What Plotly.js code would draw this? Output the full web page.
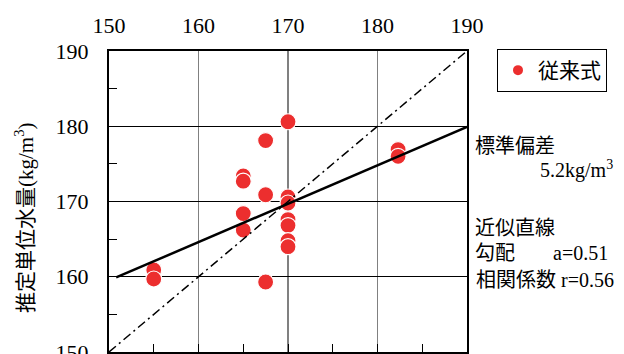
<!DOCTYPE html>
<html>
<head>
<meta charset="utf-8">
<script src="https://cdn.plot.ly/plotly-3.0.1.min.js"></script>
<style>html,body{margin:0;padding:0;background:#fff;}#chart{width:624px;height:354px;}</style>
</head>
<body>
<div id="chart"></div>
<script>
// Measured (x) vs estimated unit water content (y), kg/m3
const measured = [155, 155, 165, 165, 165, 165, 167.5, 167.5, 167.5, 170, 170, 170, 170, 170, 170, 170, 182.3, 182.3];
const estimated = [160.9, 159.7, 173.4, 172.7, 168.4, 166.2, 178.1, 170.9, 159.3, 180.6, 170.6, 169.8, 167.6, 166.8, 164.8, 164.0, 176.9, 176.0];
const seriesName = "従来式";
// approximate line y = a*x + b
const slope = 0.51;
const intercept = 83.0;
const fitX = [150.8, 190];
const oneToOne = [150, 190];
const axisRange = [150, 190];
const tickVals = [150, 160, 170, 180, 190];
const tickLabels = ["150", "160", "170", "180", "190"];
const minorVals = [150, 155, 160, 165, 170, 175, 180, 185, 190];

const fitY = fitX.map(v => slope * v + intercept);
const serif = "'Liberation Serif', 'Noto Sans CJK JP', serif";
const jp = "'Liberation Serif', 'Noto Sans CJK JP', sans-serif";

const traces = [
  {
    x: measured, y: estimated, type: "scatter", mode: "markers", name: seriesName,
    marker: {color: "#EC2E2E", size: 16, line: {color: "#ffffff", width: 1.2}},
    xaxis: "x", yaxis: "y"
  },
  {
    x: fitX, y: fitY, type: "scatter", mode: "lines", showlegend: false, hoverinfo: "skip",
    line: {color: "#000000", width: 2.5}, xaxis: "x", yaxis: "y"
  },
  {
    x: oneToOne, y: oneToOne, type: "scatter", mode: "lines", showlegend: false, hoverinfo: "skip",
    line: {color: "#000000", width: 1.5, dash: "9px,4px,2px,4px"}, xaxis: "x2", yaxis: "y"
  }
];

const pX = px => (px - 109) / 358;
const pY = py => (352 - py) / 301;

const ann = (text, x, y, anchor) => ({
  text: text, xref: "paper", yref: "paper", x: pX(x), y: pY(y),
  xanchor: anchor, yanchor: "middle", showarrow: false,
  font: {family: jp, size: 20, color: "#000"}
});

const layout = {
  width: 624, height: 354,
  margin: {l: 109, r: 157, t: 51, b: 2, pad: 0},
  paper_bgcolor: "#ffffff", plot_bgcolor: "#ffffff",
  showlegend: true,
  legend: {
    x: pX(497), y: pY(49), xanchor: "left", yanchor: "top",
    bordercolor: "#000", borderwidth: 1, bgcolor: "#fff",
    font: {family: jp, size: 21, color: "#000"}, itemsizing: "constant"
  },
  xaxis: {
    side: "top", range: axisRange, tickmode: "array", tickvals: tickVals, ticktext: tickLabels, ticks: "",
    showline: true, linecolor: "#000", linewidth: 2, mirror: true,
    showgrid: true, gridcolor: "#808080", gridwidth: 1.3, zeroline: false,
    tickfont: {family: serif, size: 22, color: "#000"}, ticklabelstandoff: 7,
    ticklabeloverflow: "allow", fixedrange: true
  },
  xaxis2: {
    overlaying: "x", side: "bottom", anchor: "y", range: axisRange,
    tickmode: "array", tickvals: minorVals, ticktext: minorVals.map(() => ""),
    ticks: "inside", ticklen: 8, tickwidth: 1, tickcolor: "#000",
    showticklabels: false, showgrid: false, showline: false, zeroline: false, fixedrange: true
  },
  yaxis: {
    range: axisRange, tickmode: "array", tickvals: minorVals,
    ticktext: minorVals.map(v => (v % 10 === 0 ? String(v) : "")),
    ticks: "inside", ticklen: 8, tickwidth: 1, tickcolor: "#000",
    showline: true, linecolor: "#000", linewidth: 2, mirror: true,
    showgrid: false, zeroline: false,
    tickfont: {family: serif, size: 22, color: "#000"}, ticklabelstandoff: 14,
    ticklabeloverflow: "allow", fixedrange: true
  },
  yaxis2: {
    overlaying: "y", anchor: "x", range: axisRange, tickmode: "array", tickvals: tickVals,
    showticklabels: false, ticks: "", showgrid: true, gridcolor: "#000", gridwidth: 1,
    showline: false, zeroline: false, fixedrange: true
  },
  annotations: [
    {text: "推定単位水量(kg/m<sup>3</sup>)", xref: "paper", yref: "paper", x: pX(24), y: pY(218),
     xanchor: "center", yanchor: "middle", textangle: -90, showarrow: false,
     font: {family: jp, size: 21, color: "#000"}},
    ann("標準偏差", 473, 146, "left"),
    ann("5.2kg/m<sup>3</sup>", 615, 169, "right"),
    ann("近似直線", 473, 228, "left"),
    ann("勾配", 473, 253, "left"),
    ann("a=0.51", 610, 253, "right"),
    ann("相関係数 r=0.56", 616, 280, "right")
  ]
};

// gridline helper trace so horizontal black gridlines exist on y2 beneath the data
traces.unshift({x: [], y: [], type: "scatter", mode: "markers", showlegend: false, xaxis: "x", yaxis: "y2", hoverinfo: "skip"});

Plotly.newPlot("chart", traces, layout, {staticPlot: true, displayModeBar: false});
</script>
</body>
</html>
